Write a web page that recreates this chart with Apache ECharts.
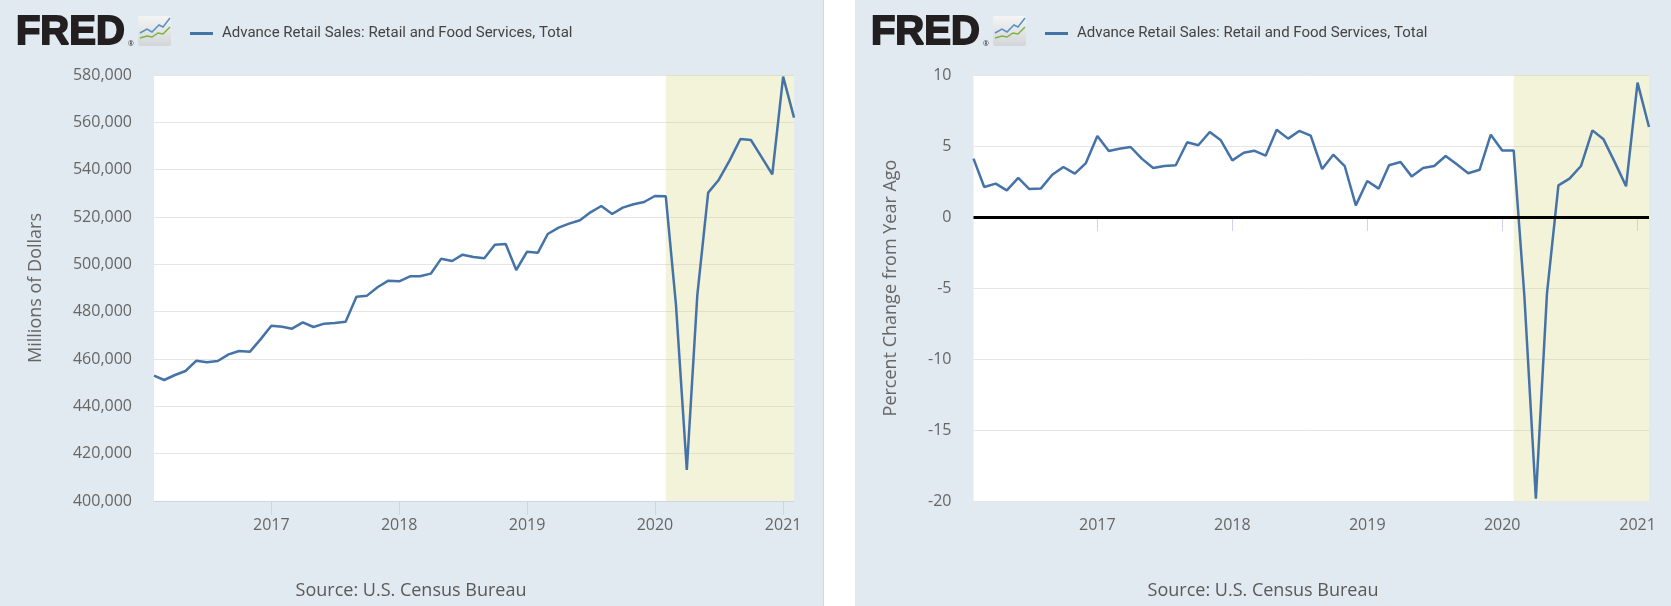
<!DOCTYPE html>
<html>
<head>
<meta charset="utf-8">
<script src="https://cdn.jsdelivr.net/npm/echarts@6/dist/echarts.min.js"></script>
<style>
html,body{margin:0;padding:0;background:#ffffff;}
#chart{width:1671px;height:606px;}
</style>
</head>
<body>
<div id="chart"></div>
<script>
// ---- data ----
const months = [
 '2016-02-01','2016-03-01','2016-04-01','2016-05-01','2016-06-01','2016-07-01','2016-08-01','2016-09-01','2016-10-01','2016-11-01','2016-12-01',
 '2017-01-01','2017-02-01','2017-03-01','2017-04-01','2017-05-01','2017-06-01','2017-07-01','2017-08-01','2017-09-01','2017-10-01','2017-11-01','2017-12-01',
 '2018-01-01','2018-02-01','2018-03-01','2018-04-01','2018-05-01','2018-06-01','2018-07-01','2018-08-01','2018-09-01','2018-10-01','2018-11-01','2018-12-01',
 '2019-01-01','2019-02-01','2019-03-01','2019-04-01','2019-05-01','2019-06-01','2019-07-01','2019-08-01','2019-09-01','2019-10-01','2019-11-01','2019-12-01',
 '2020-01-01','2020-02-01','2020-03-01','2020-04-01','2020-05-01','2020-06-01','2020-07-01','2020-08-01','2020-09-01','2020-10-01','2020-11-01','2020-12-01',
 '2021-01-01','2021-02-01'
];
const salesLevel = [
 452960,451130,453240,454930,459300,458600,459160,461970,463380,463100,468300,
 474090,473660,472820,475500,473520,474930,475210,475780,486340,486770,490430,493100,
 492820,494930,494930,496060,502400,501410,504090,503100,502540,508310,508600,497610,
 505360,504930,512820,515500,517190,518600,521980,524650,521270,523950,525360,526340,
 528880,528740,483000,413100,487000,530290,535640,543810,552960,552540,545220,538030,
 579300,561980
];
const salesPctChange = [
 4.11,2.11,2.35,1.88,2.75,1.97,2.00,2.98,3.52,3.05,3.80,
 5.70,4.65,4.81,4.93,4.11,3.45,3.59,3.64,5.26,5.05,5.99,5.40,
 3.99,4.53,4.67,4.32,6.15,5.52,6.06,5.73,3.38,4.39,3.59,0.82,
 2.54,2.00,3.64,3.87,2.86,3.45,3.59,4.30,3.69,3.08,3.33,5.80,
 4.69,4.69,-5.60,-19.84,-5.40,2.23,2.70,3.59,6.10,5.47,3.83,2.16,
 9.46,6.34
];
const leftTicks = [400000,420000,440000,460000,480000,500000,520000,540000,560000,580000];
const rightTicks = [-20,-15,-10,-5,0,5,10];
const seriesName = 'Advance Retail Sales: Retail and Food Services, Total';
const leftAxisTitle = 'Millions of Dollars';
const rightAxisTitle = 'Percent Change from Year Ago';
const sourceText = 'Source: U.S. Census Bureau';
const shadeStart = '2020-02-01';
const shadeEnd = '2021-02-01';
const xMin = '2016-02-01';
const xMax = '2021-02-01';

// ---- styles ----
const FONT = "'Open Sans', 'DejaVu Sans', sans-serif";
const NARROW = "Roboto, 'Liberation Sans', sans-serif";
const PANEL_BG = '#e1e9f1';
const LINE_COLOR = '#4572a7';
const SHADE = 'rgba(207,207,107,0.25)';

const chart = echarts.init(document.getElementById('chart'), null, {renderer: 'canvas'});

function xAxisCfg(gridIndex) {
  return {
    type: 'time', gridIndex: gridIndex,
    min: xMin, max: xMax,
    minInterval: 365 * 24 * 3600 * 1000,
    axisLine: {show: true, lineStyle: {color: '#ccd6eb', width: 1}},
    axisTick: {show: true, length: 14, inside: false, lineStyle: {color: '#ccd6eb'}},
    axisLabel: {formatter: '{yyyy}', color: '#666666', fontSize: 16, fontFamily: FONT, margin: 16,
                showMinLabel: false, showMaxLabel: false},
    splitLine: {show: false}
  };
}
function yAxisCfg(gridIndex, ticks, title, gap, fmt) {
  return {
    type: 'value', gridIndex: gridIndex,
    min: ticks[0], max: ticks[ticks.length - 1], interval: ticks[1] - ticks[0],
    axisLine: {show: false}, axisTick: {show: false},
    axisLabel: {color: '#666666', fontSize: 16, fontFamily: FONT, margin: 22, formatter: fmt},
    splitLine: {show: true, lineStyle: {color: '#e6e6e6', width: 1}},
    name: title, nameLocation: 'middle', nameRotate: 90, nameGap: gap,
    nameTextStyle: {color: '#666666', fontSize: 18, fontFamily: FONT}
  };
}

function logo(x0) {
  return [
    {type: 'text', left: x0 + 15, top: 12, z: 10,
     style: {text: 'FRED', fontSize: 40, fontWeight: 900, fontFamily: "'Liberation Sans', Arial, sans-serif",
             fill: '#231f20', stroke: '#231f20', lineWidth: 1.8}},
    {type: 'text', left: x0 + 128, top: 40, z: 10,
     style: {text: '®', fontSize: 7, fontFamily: FONT, fill: '#231f20'}},
    {type: 'rect', z: 10, shape: {x: x0 + 138, y: 16, width: 33, height: 30, r: 2},
     style: {fill: new echarts.graphic.LinearGradient(0, 0, 0, 1, [{offset: 0, color: '#f4f4f4'}, {offset: 1, color: '#d3d6d9'}])}},
    {type: 'polyline', z: 11, shape: {points: [[x0+140,33],[x0+147,29],[x0+152,32],[x0+159,25],[x0+163,27],[x0+170,18]]},
     style: {stroke: '#5b8ec2', lineWidth: 1.5, fill: null}},
    {type: 'polyline', z: 11, shape: {points: [[x0+140,38],[x0+147,36],[x0+152,37],[x0+158,33],[x0+163,34],[x0+170,27]]},
     style: {stroke: '#7cb342', lineWidth: 1.5, fill: null}}
  ];
}

const option = {
  animation: false,
  backgroundColor: '#ffffff',
  graphic: [
    {type: 'rect', z: -10, shape: {x: 0, y: 0, width: 823, height: 606}, style: {fill: PANEL_BG}},
    {type: 'rect', z: -10, shape: {x: 823, y: 0, width: 1, height: 606}, style: {fill: '#d3d8dd'}},
    {type: 'rect', z: -10, shape: {x: 855, y: 0, width: 816, height: 606}, style: {fill: PANEL_BG}},
    ...logo(0),
    ...logo(855),
    {type: 'text', z: 10, x: 411, y: 591,
     style: {text: sourceText, fontSize: 18, fontFamily: FONT, fill: '#595959', align: 'center', verticalAlign: 'middle'}},
    {type: 'text', z: 10, x: 1263, y: 591,
     style: {text: sourceText, fontSize: 18, fontFamily: FONT, fill: '#595959', align: 'center', verticalAlign: 'middle'}}
  ],
  legend: [
    {left: 185, top: 21, icon: 'rect', itemWidth: 23, itemHeight: 3, selectedMode: false,
     data: [seriesName], textStyle: {fontSize: 15, fontFamily: NARROW, color: '#444444', padding: [0, 0, 0, 4]}},
    {left: 1040, top: 21, icon: 'rect', itemWidth: 23, itemHeight: 3, selectedMode: false,
     data: [seriesName], textStyle: {fontSize: 15, fontFamily: NARROW, color: '#444444', padding: [0, 0, 0, 4]}}
  ],
  grid: [
    {left: 154, top: 75, width: 640, height: 426, show: true, backgroundColor: '#ffffff', borderWidth: 0, containLabel: false},
    {left: 973.5, top: 75, width: 675.5, height: 426, show: true, backgroundColor: '#ffffff', borderWidth: 0, containLabel: false}
  ],
  xAxis: [xAxisCfg(0), xAxisCfg(1)],
  yAxis: [
    yAxisCfg(0, leftTicks, leftAxisTitle, 109, function (v) { return v.toLocaleString('en-US'); }),
    yAxisCfg(1, rightTicks, rightAxisTitle, 74, function (v) { return String(v); })
  ],
  series: [
    {
      name: seriesName, type: 'line', xAxisIndex: 0, yAxisIndex: 0,
      data: months.map((m, i) => [m, salesLevel[i]]),
      showSymbol: false, symbol: 'none',
      lineStyle: {color: LINE_COLOR, width: 2.5}, itemStyle: {color: LINE_COLOR},
      markArea: {silent: true, itemStyle: {color: SHADE}, data: [[{xAxis: shadeStart}, {xAxis: shadeEnd}]]},
      z: 3
    },
    {
      name: seriesName, type: 'line', xAxisIndex: 1, yAxisIndex: 1,
      data: months.map((m, i) => [m, salesPctChange[i]]),
      showSymbol: false, symbol: 'none',
      lineStyle: {color: LINE_COLOR, width: 2.5}, itemStyle: {color: LINE_COLOR},
      markArea: {silent: true, itemStyle: {color: SHADE}, data: [[{xAxis: shadeStart}, {xAxis: shadeEnd}]]},
      markLine: {silent: true, symbol: 'none', label: {show: false},
                 lineStyle: {color: '#000000', width: 3, type: 'solid'}, data: [{yAxis: 0}]},
      z: 3
    }
  ]
};
chart.setOption(option);
</script>
</body>
</html>
